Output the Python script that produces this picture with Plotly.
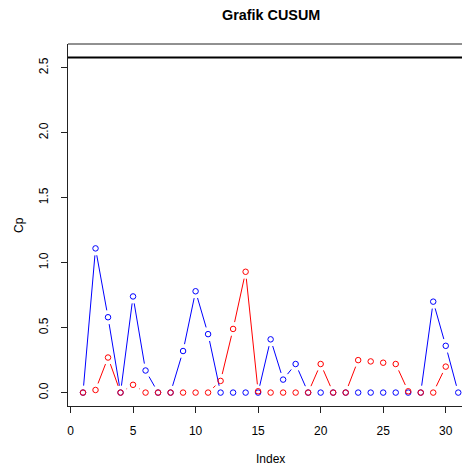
import plotly.graph_objects as go

# ---- data ----
index = list(range(1, 32))
cp_upper = [0, 1.11, 0.58, 0, 0.74, 0.17, 0, 0, 0.32, 0.78, 0.45, 0, 0, 0, 0,
            0.41, 0.10, 0.22, 0, 0, 0, 0, 0, 0, 0, 0, 0, 0, 0.70, 0.36, 0]
cp_lower = [0, 0.02, 0.27, 0, 0.06, 0, 0, 0, 0, 0, 0, 0.09, 0.49, 0.93, 0.01,
            0, 0, 0, 0, 0.22, 0, 0, 0.25, 0.24, 0.23, 0.22, 0.01, 0, 0, 0.20, None]
h_limit = 2.58
x_ticks = [0, 5, 10, 15, 20, 25, 30]
y_ticks = [0.0, 0.5, 1.0, 1.5, 2.0, 2.5]
title_text = "Grafik CUSUM"
x_label = "Index"
y_label = "Cp"

# ---- layout geometry ----
W, H = 462, 466
ML, MR, MT, MB = 68, 0, 44, 60
xr = [-0.2, 31.3]
yr = [-0.04 * h_limit, 1.04 * h_limit]
plot_w = W - ML - MR
plot_h = H - MT - MB
ppx = plot_w / (xr[1] - xr[0])
ppy = plot_h / (yr[1] - yr[0])
GAP = 7.0  # pixel gap around points (R type="b")


def gapped(xs, ys):
    ox, oy = [], []
    for i in range(len(xs) - 1):
        x0, y0, x1, y1 = xs[i], ys[i], xs[i + 1], ys[i + 1]
        if y0 is None or y1 is None:
            continue
        dxp = (x1 - x0) * ppx
        dyp = (y1 - y0) * ppy
        L = (dxp ** 2 + dyp ** 2) ** 0.5
        if L <= 2 * GAP:
            continue
        f = GAP / L
        ox += [x0 + f * (x1 - x0), x1 - f * (x1 - x0), None]
        oy += [y0 + f * (y1 - y0), y1 - f * (y1 - y0), None]
    return ox, oy


fig = go.Figure()
for ys, col in [(cp_upper, "#0000FF"), (cp_lower, "#FF0000")]:
    lx, ly = gapped(index, ys)
    fig.add_trace(go.Scatter(x=lx, y=ly, mode="lines",
                             line=dict(color=col, width=1),
                             hoverinfo="skip", showlegend=False))
    px = [x for x, y in zip(index, ys) if y is not None]
    py = [y for y in ys if y is not None]
    fig.add_trace(go.Scatter(x=px, y=py, mode="markers",
                             marker=dict(symbol="circle-open", size=5.5,
                                         color=col, line=dict(width=1)),
                             showlegend=False))

fig.add_shape(type="line", xref="paper", yref="y", x0=0, x1=1,
              y0=h_limit, y1=h_limit, line=dict(color="black", width=2))
fig.add_shape(type="line", xref="paper", yref="paper", x0=0, x1=1,
              y0=1, y1=1, line=dict(color="#222", width=1))

font = "Liberation Sans, Arial, Helvetica, sans-serif"
mid_x = (xr[0] + 32.2) / 2

fig.add_annotation(text="<b>" + title_text + "</b>", xref="x", yref="paper",
                   x=mid_x, y=(plot_h + MT - 15) / plot_h, showarrow=False,
                   xanchor="center", yanchor="middle",
                   font=dict(size=14.4, color="black", family=font))
fig.add_annotation(text=x_label, xref="x", yref="paper",
                   x=mid_x, y=-(459 - (MT + plot_h)) / plot_h, showarrow=False,
                   xanchor="center", yanchor="middle",
                   font=dict(size=12, color="black", family=font))
fig.add_annotation(text=y_label, xref="paper", yref="paper",
                   x=(19 - ML) / plot_w, y=0.5, showarrow=False, textangle=-90,
                   xanchor="center", yanchor="middle",
                   font=dict(size=12, color="black", family=font))

fig.update_layout(
    width=W, height=H,
    margin=dict(l=ML, r=MR, t=MT, b=MB, pad=0),
    plot_bgcolor="white", paper_bgcolor="white",
    font=dict(family=font, size=12, color="black"),
    xaxis=dict(range=xr, tickvals=x_ticks, ticks="outside", ticklen=6,
               tickwidth=1, tickcolor="#222", showline=True, linecolor="#222",
               linewidth=1, showgrid=False, zeroline=False,
               ticklabelstandoff=8, tickfont=dict(size=12)),
    yaxis=dict(range=yr, tickvals=y_ticks, ticktext=[f"{v:.1f}" for v in y_ticks],
               ticks="outside", ticklen=6, tickwidth=1, tickcolor="#222",
               showline=True, linecolor="#222", linewidth=1, showgrid=False,
               zeroline=False, tickangle=-90, ticklabelstandoff=8,
               tickfont=dict(size=12)),
)

fig.write_html("out.html")
